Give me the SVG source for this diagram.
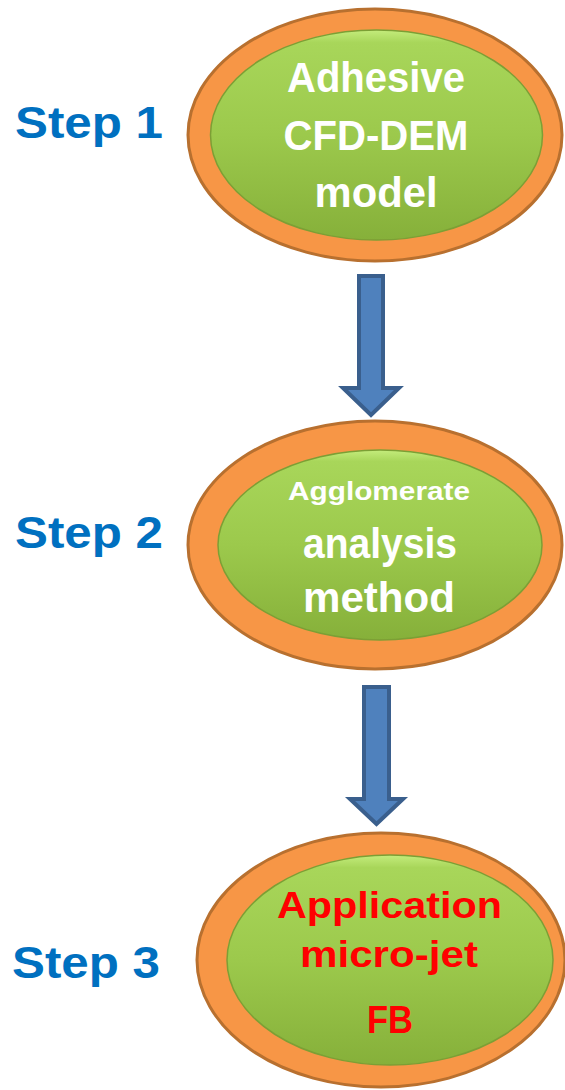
<svg xmlns="http://www.w3.org/2000/svg" width="565" height="1090" viewBox="0 0 565 1090">
  <defs>
    <linearGradient id="green" x1="0" y1="0" x2="0" y2="1">
      <stop offset="0" stop-color="#c4ec7c"/>
      <stop offset="0.06" stop-color="#a8d65a"/>
      <stop offset="0.5" stop-color="#9cc94c"/>
      <stop offset="1" stop-color="#86b03a"/>
    </linearGradient>
    <style>
      .ring { fill: #f79646; stroke: #b8702f; stroke-width: 3; }
      .core { fill: url(#green); stroke: #7c9f35; stroke-width: 1.5; }
      .arrow { fill: #4f81bd; stroke: #3a5f8d; stroke-width: 4; stroke-linejoin: miter; }
      .step { font-family: "Liberation Sans", Arial, sans-serif; font-weight: bold; font-size: 45px; fill: #0070c0; }
      .lbl { font-family: "Liberation Sans", Arial, sans-serif; font-weight: bold; text-anchor: middle; }
      .w { fill: #ffffff; }
      .r { fill: #ff0000; }
    </style>
  </defs>

  <g id="connectors">
    <polygon class="arrow" points="359,276 383,276 383,388 399,388 371,415 343,388 359,388"/>
    <polygon class="arrow" points="364,687 389,687 389,799 403,799 376.5,824 350,799 364,799"/>
  </g>

  <g id="step1">
    <text class="step" x="15" y="138" textLength="148" lengthAdjust="spacingAndGlyphs">Step 1</text>
    <ellipse class="ring" cx="375" cy="135" rx="187" ry="126"/>
    <ellipse class="core" cx="376.5" cy="135" rx="166" ry="105"/>
    <text class="lbl w" x="376" y="92" font-size="42" textLength="178" lengthAdjust="spacingAndGlyphs">Adhesive</text>
    <text class="lbl w" x="376" y="150" font-size="42" textLength="185" lengthAdjust="spacingAndGlyphs">CFD-DEM</text>
    <text class="lbl w" x="376" y="207" font-size="42" textLength="123" lengthAdjust="spacingAndGlyphs">model</text>
  </g>

  <g id="step2">
    <text class="step" x="15" y="548" textLength="148" lengthAdjust="spacingAndGlyphs">Step 2</text>
    <ellipse class="ring" cx="375" cy="545" rx="187" ry="124"/>
    <ellipse class="core" cx="380" cy="545" rx="162" ry="95"/>
    <text class="lbl w" x="379" y="500" font-size="26" textLength="182" lengthAdjust="spacingAndGlyphs">Agglomerate</text>
    <text class="lbl w" x="380" y="558" font-size="42" textLength="154" lengthAdjust="spacingAndGlyphs">analysis</text>
    <text class="lbl w" x="379" y="612" font-size="42" textLength="152" lengthAdjust="spacingAndGlyphs">method</text>
  </g>

  <g id="step3">
    <text class="step" x="12" y="978" textLength="148" lengthAdjust="spacingAndGlyphs">Step 3</text>
    <ellipse class="ring" cx="381" cy="960" rx="184" ry="127"/>
    <ellipse class="core" cx="390" cy="960" rx="163" ry="105"/>
    <text class="lbl r" x="389.5" y="918" font-size="37" textLength="225" lengthAdjust="spacingAndGlyphs">Application</text>
    <text class="lbl r" x="389" y="967" font-size="37" textLength="178" lengthAdjust="spacingAndGlyphs">micro-jet</text>
    <text class="lbl r" x="390" y="1033" font-size="38" textLength="46" lengthAdjust="spacingAndGlyphs">FB</text>
  </g>
</svg>
